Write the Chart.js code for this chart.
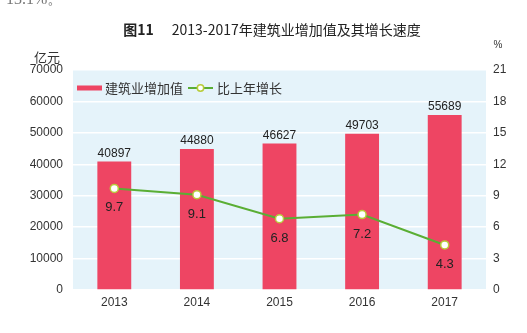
<!DOCTYPE html>
<html>
<head>
<meta charset="utf-8">
<script src="https://cdn.jsdelivr.net/npm/chart.js@4/dist/chart.umd.min.js"></script>
<style>
html,body{margin:0;padding:0;background:#fff;}
#c{display:block;}
</style>
</head>
<body>
<canvas id="c" width="527" height="333"></canvas>
<script>
const categories = ["2013", "2014", "2015", "2016", "2017"];
const valueAdded = [40897, 44880, 46627, 49703, 55689];
const growthRate = [9.7, 9.1, 6.8, 7.2, 4.3];
const seriesNames = ["建筑业增加值", "比上年增长"];
const leftAxis = {min: 0, max: 70000, step: 10000, unit: "亿元"};
const rightAxis = {min: 0, max: 21, step: 3, unit: "%"};
const titleMain = "图11";
const titleRest = "2013-2017年建筑业增加值及其增长速度";
const topFragment = "13.1%。";

const FONT = "'Liberation Sans', 'Noto Sans CJK SC', sans-serif";
const CJK = "'Noto Sans CJK SC', 'Liberation Sans', sans-serif";
const BAR_COLOR = "#ee4563";
const LINE_COLOR = "#5aae34";
const TEXT = "#333";

const decor = {
  id: "decor",
  beforeDraw(chart) {
    const ctx = chart.ctx, a = chart.chartArea;
    ctx.save();
    ctx.fillStyle = "#e5f3fa";
    ctx.fillRect(a.left, a.top, a.right - a.left, a.bottom - a.top);
    ctx.restore();
  },
  afterDraw(chart) {
    const ctx = chart.ctx, a = chart.chartArea;
    ctx.save();
    ctx.fillStyle = "#777";
    ctx.font = "16px 'Liberation Serif', serif";
    ctx.textBaseline = "alphabetic";
    ctx.textAlign = "left";
    ctx.fillText(topFragment, 6, 4);
    ctx.fillStyle = "#222";
    ctx.textBaseline = "middle";
    ctx.font = "bold 14px " + CJK;
    const w1 = ctx.measureText(titleMain).width;
    ctx.font = "14px " + CJK;
    const w2 = ctx.measureText(titleRest).width;
    const gap = 18;
    let x0 = 272 - (w1 + gap + w2) / 2;
    ctx.font = "bold 14px " + CJK;
    ctx.fillText(titleMain, x0, 30);
    ctx.font = "14px " + CJK;
    ctx.fillText(titleRest, x0 + w1 + gap, 30);
    ctx.fillStyle = TEXT;
    ctx.font = "13px " + CJK;
    ctx.textAlign = "center";
    ctx.fillText(leftAxis.unit, 47, 57);
    ctx.font = "10px " + FONT;
    ctx.fillText(rightAxis.unit, 498, 45);
    const ly = a.top + 18;
    ctx.textAlign = "left";
    ctx.fillStyle = BAR_COLOR;
    ctx.fillRect(77, ly - 2.5, 25, 5);
    ctx.fillStyle = TEXT;
    ctx.font = "13px " + CJK;
    ctx.fillText(chart.data.datasets[0].label, 105, ly);
    ctx.strokeStyle = LINE_COLOR;
    ctx.lineWidth = 2;
    ctx.beginPath(); ctx.moveTo(188, ly); ctx.lineTo(213, ly); ctx.stroke();
    ctx.beginPath(); ctx.arc(200.5, ly, 3.2, 0, Math.PI * 2);
    ctx.fillStyle = "#fff"; ctx.fill();
    ctx.strokeStyle = "#b8cc3a"; ctx.lineWidth = 1.5; ctx.stroke();
    ctx.fillStyle = TEXT;
    ctx.fillText(chart.data.datasets[1].label, 217, ly);
    const barMeta = chart.getDatasetMeta(0);
    ctx.textAlign = "center";
    ctx.textBaseline = "alphabetic";
    ctx.font = "12px " + FONT;
    ctx.fillStyle = "#222";
    barMeta.data.forEach((el, i) => {
      ctx.fillText(String(chart.data.datasets[0].data[i]), el.x, el.y - 4.5);
    });
    const lineMeta = chart.getDatasetMeta(1);
    ctx.textBaseline = "top";
    ctx.font = "13px " + FONT;
    lineMeta.data.forEach((el, i) => {
      ctx.fillText(chart.data.datasets[1].data[i].toFixed(1), el.x, el.y + 13);
    });
    ctx.restore();
  }
};

new Chart(document.getElementById("c"), {
  data: {
    labels: categories,
    datasets: [
      {
        type: "bar", label: seriesNames[0], data: valueAdded, yAxisID: "y",
        backgroundColor: BAR_COLOR, categoryPercentage: 1, barPercentage: 0.41, order: 2
      },
      {
        type: "line", label: seriesNames[1], data: growthRate, yAxisID: "y1",
        borderColor: LINE_COLOR, borderWidth: 2, tension: 0,
        pointRadius: 4, pointBackgroundColor: "#fff", pointBorderColor: "#b8cc3a",
        pointBorderWidth: 1.5, order: 1
      }
    ]
  },
  options: {
    responsive: false, animation: false, devicePixelRatio: 1,
    layout: {padding: {top: 70, left: 0, right: 0, bottom: 0}},
    plugins: {legend: {display: false}, title: {display: false}, tooltip: {enabled: false}},
    scales: {
      x: {
        grid: {display: false, drawTicks: false}, border: {display: false},
        ticks: {color: TEXT, font: {family: FONT, size: 12}, padding: 5},
        afterFit(s) { s.height = 43; }
      },
      y: {
        position: "left", min: leftAxis.min, max: leftAxis.max,
        ticks: {stepSize: leftAxis.step, color: TEXT, font: {family: FONT, size: 12}, padding: 10,
                callback: v => String(v)},
        grid: {color: "#ffffff", lineWidth: 1.5, drawTicks: false}, border: {display: false},
        afterFit(s) { s.width = 73; }
      },
      y1: {
        position: "right", min: rightAxis.min, max: rightAxis.max,
        ticks: {stepSize: rightAxis.step, color: TEXT, font: {family: FONT, size: 12}, padding: 7,
                callback: v => String(v)},
        grid: {display: false, drawTicks: false}, border: {display: false},
        afterFit(s) { s.width = 41; }
      }
    }
  },
  plugins: [decor]
});
</script>
</body>
</html>
